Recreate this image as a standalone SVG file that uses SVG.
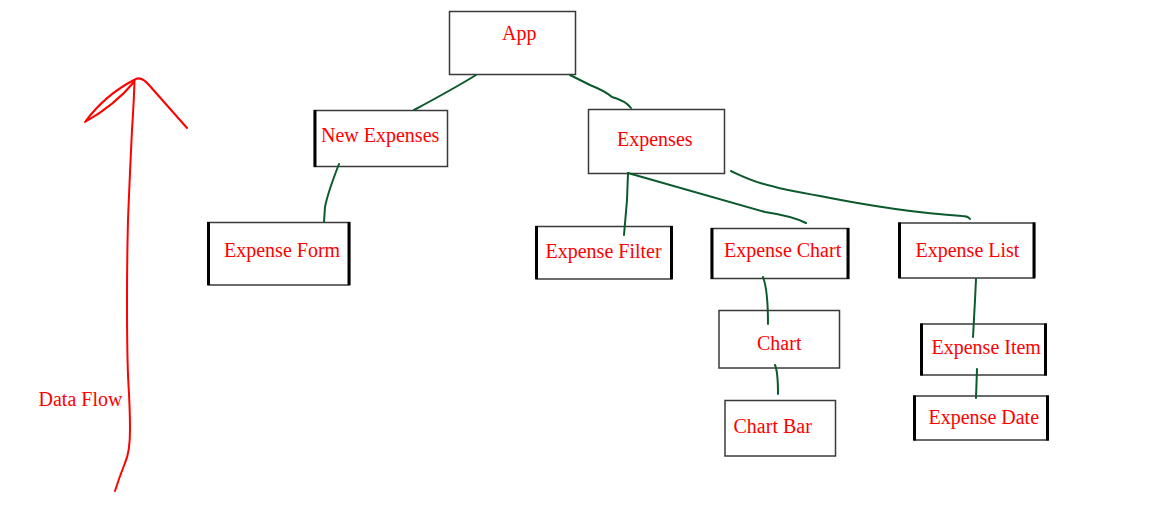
<svg xmlns="http://www.w3.org/2000/svg" width="1160" height="515" viewBox="0 0 1160 515">
<style>
.box{fill:#fff;stroke:#3a3a3a;stroke-width:1.5}
.side{stroke:#000;stroke-width:3}
.lbl{font-family:"Liberation Serif","Times New Roman",serif;font-size:20px;fill:#ff0000}
.con{fill:none;stroke:#0b5a2c;stroke-width:2;stroke-linecap:round;stroke-linejoin:round}
.flow{fill:none;stroke:#ff0000;stroke-width:2;stroke-linecap:round;stroke-linejoin:round}
</style>
<rect width="1160" height="515" fill="#fff"/>
<g id="app">
<rect class="box" x="449.5" y="11.5" width="126" height="63"/>
<text class="lbl" x="502" y="40">App</text>
</g>
<g id="new-expenses">
<rect class="box" x="314.5" y="110.5" width="133" height="56" stroke="#000"/>
<line class="side" x1="315" y1="110" x2="315" y2="167"/>
<text class="lbl" x="321" y="142">New Expenses</text>
</g>
<g id="expenses">
<rect class="box" x="588.5" y="109.5" width="136" height="64" stroke="#555"/>
<text class="lbl" x="617" y="146">Expenses</text>
</g>
<g id="expense-form">
<rect class="box" x="208" y="222.5" width="141.5" height="62.5" stroke="#000"/>
<line class="side" x1="208.5" y1="222" x2="208.5" y2="285"/>
<line class="side" x1="349" y1="222" x2="349" y2="285"/>
<text class="lbl" x="224" y="257">Expense Form</text>
</g>
<g id="expense-filter">
<rect class="box" x="536" y="226.5" width="136" height="52.5" stroke="#000"/>
<line class="side" x1="536.5" y1="226" x2="536.5" y2="279"/>
<line class="side" x1="671.5" y1="226" x2="671.5" y2="279"/>
<text class="lbl" x="545.5" y="258">Expense Filter</text>
</g>
<g id="expense-chart">
<rect class="box" x="711.5" y="228.5" width="137" height="50" stroke="#000"/>
<line class="side" x1="712" y1="228" x2="712" y2="279"/>
<line class="side" x1="848" y1="228" x2="848" y2="279"/>
<text class="lbl" x="724" y="257">Expense Chart</text>
</g>
<g id="expense-list">
<rect class="box" x="899" y="223" width="135.5" height="55" stroke="#000"/>
<line class="side" x1="899.5" y1="222.5" x2="899.5" y2="278"/>
<line class="side" x1="1034" y1="222.5" x2="1034" y2="278"/>
<text class="lbl" x="915.5" y="257">Expense List</text>
</g>
<g id="chart">
<rect class="box" x="719" y="310.5" width="120.5" height="57.5" stroke="#444"/>
<text class="lbl" x="757" y="350">Chart</text>
</g>
<g id="chart-bar">
<rect class="box" x="725" y="400.5" width="110.5" height="55.5" stroke="#444"/>
<text class="lbl" x="733.5" y="433">Chart Bar</text>
</g>
<g id="expense-item">
<rect class="box" x="921" y="324" width="125" height="51" stroke="#000"/>
<line class="side" x1="921.5" y1="323.5" x2="921.5" y2="375.5"/>
<line class="side" x1="1045.5" y1="323.5" x2="1045.5" y2="375.5"/>
<text class="lbl" x="931.5" y="354">Expense Item</text>
</g>
<g id="expense-date">
<rect class="box" x="914" y="396" width="134" height="44" stroke="#000"/>
<line class="side" x1="914.5" y1="395.5" x2="914.5" y2="440.5"/>
<line class="side" x1="1047.5" y1="395.5" x2="1047.5" y2="440.5"/>
<text class="lbl" x="928.5" y="424">Expense Date</text>
</g>
<g id="connectors">
<path class="con" d="M476,75 Q455,88 414,110"/>
<path class="con" d="M570,75 L590,85 Q605,91 612,97 Q626,101 631,108"/>
<path class="con" d="M339,164 Q328,192 325,207 L324,222"/>
<path class="con" d="M628,173 L627,200 L624,235"/>
<path class="con" d="M628,173 L765,212 Q792,216 806,223"/>
<path class="con" d="M731,171 C748,179 760,186 820,196 C880,208 930,214 962,216 Q968,216 970,219"/>
<path class="con" d="M763,277 Q768,290 768,324"/>
<path class="con" d="M775,365 Q778,372 778,394"/>
<path class="con" d="M976,279 L975,300 L973,337"/>
<path class="con" d="M977,369 L976,398"/>
</g>
<g id="data-flow">
<path class="flow" d="M115,491 Q119,478 125,463 Q130,452 130,430 Q130,410 128.5,385 Q127,360 127,300 Q127,260 128,220 Q130,170 132,130 Q134,100 134.5,80"/>
<path class="flow" d="M134,80 C138,77 143,78 149,85 L187,128"/>
<path class="flow" d="M134,80 Q105,95 85,122 Q115,105 134,82"/>
<text class="lbl" x="38.5" y="406">Data Flow</text>
</g>
</svg>
